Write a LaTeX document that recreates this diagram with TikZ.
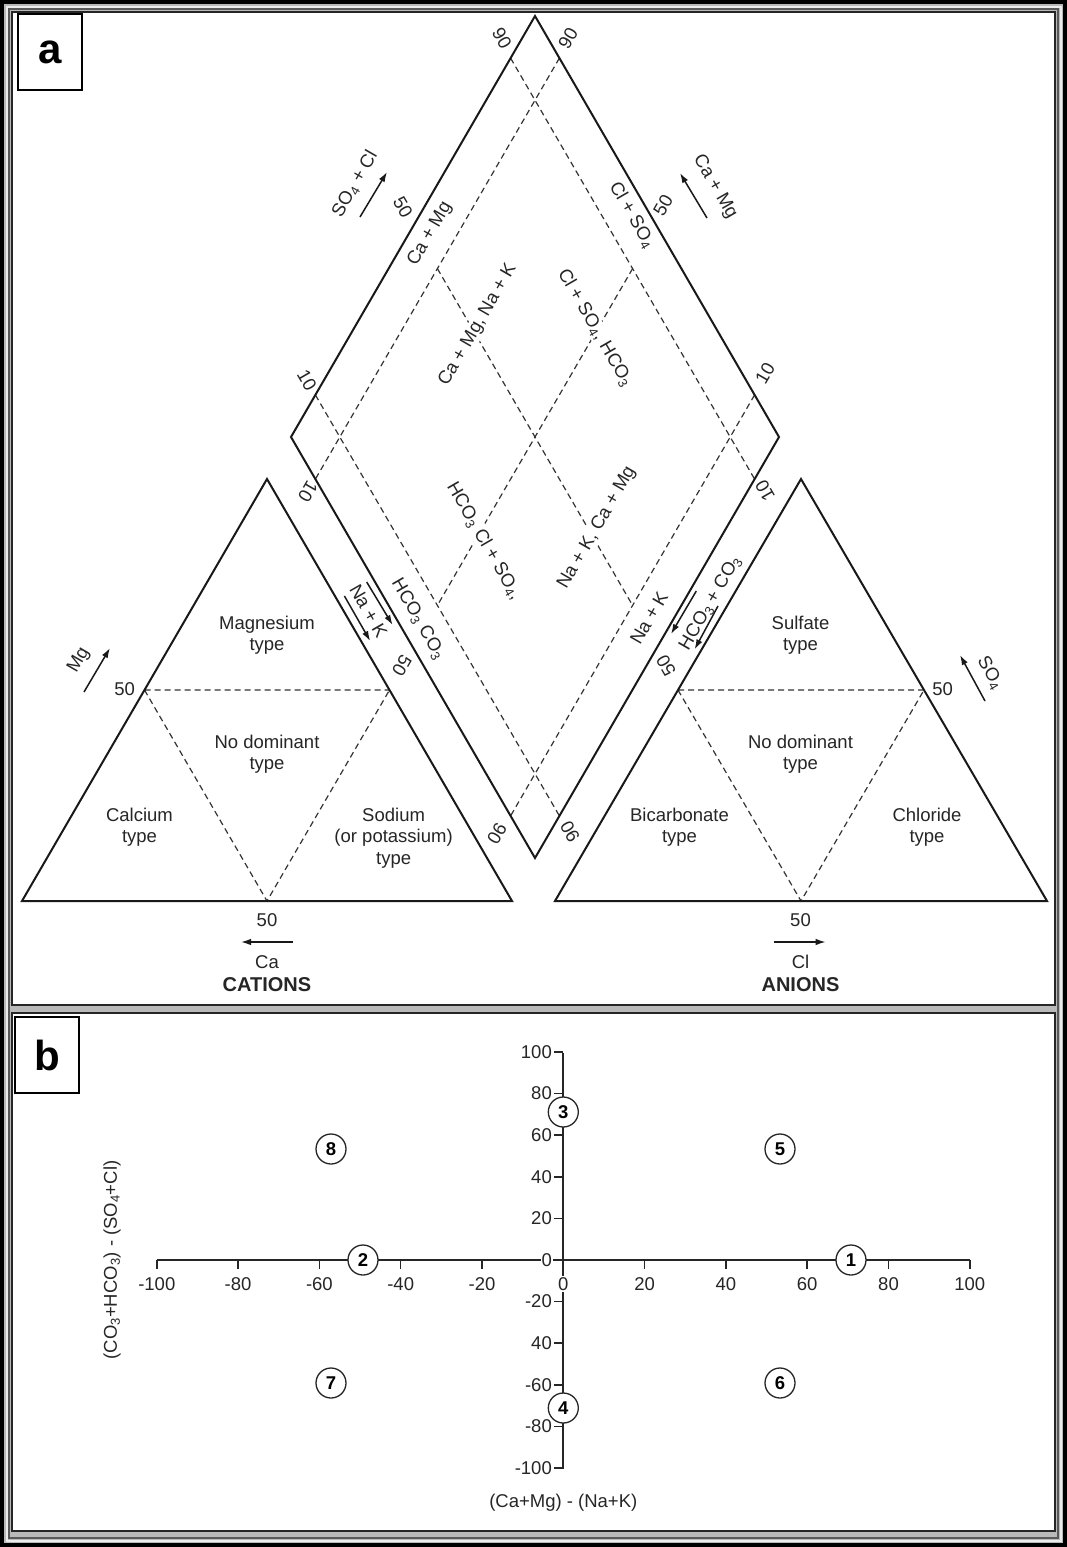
\documentclass[tikz,border=0pt]{standalone}
\usepackage{fontspec}
\setmainfont{Liberation Sans}
\usetikzlibrary{arrows.meta,calc}
\newcommand\lbf{\fontsize{18.5}{21.4}\selectfont}
\begin{document}
\begin{tikzpicture}[x=1pt,y=-1pt,
  bline/.style={line width=2pt, draw=black!90, line join=miter},
  dline/.style={line width=1.2pt, draw=black!80, dash pattern=on 6pt off 4pt},
  lbl/.style={font=\lbf, inner sep=1pt, align=center, text=black!85},
  wl/.style={lbl, fill=white},
  arr/.style={-{Latex[length=10pt,width=6.5pt]}, line width=1.5pt, draw=black!90},
  circ/.style={circle, draw=black!85, line width=1.3pt, fill=white, minimum size=30pt, inner sep=0pt, font=\lbf\bfseries},
  axisln/.style={line width=1.7pt, draw=black!85},
  tk/.style={line width=1.5pt, draw=black!85},
  plabel/.style={draw=black, line width=1.6pt, fill=white, minimum width=64pt, minimum height=76pt, inner sep=0pt, font=\fontsize{42}{42}\selectfont\bfseries},
  bold/.style={font=\fontsize{20}{22}\selectfont\bfseries, inner sep=1pt, text=black!85}
]
\useasboundingbox (0,0) rectangle (1067,1547);
% ---------- frame ----------
\fill[black] (0,0) rectangle (1067,1547);
\fill[gray!55] (4,4) rectangle (1063,1543);
\draw[gray!15, line width=2pt] (6.5,6.5) rectangle (1060.5,1540.5);
\draw[gray!70!black, line width=1.2pt] (9,9) rectangle (1058,1538);
\filldraw[fill=white, draw=black!85, line width=1.5pt] (12,12) rectangle (1055,1005);
\filldraw[fill=white, draw=black!85, line width=1.5pt] (12,1013) rectangle (1055,1531);
\node[plabel] (pa) at (50,52) {a};
\node[plabel] (pb) at (47,1055) {b};

% ---------- panel a : geometry ----------
\coordinate (LA) at (267,479);
\coordinate (LB1) at (22,901);
\coordinate (LB2) at (512,901);
\coordinate (RA) at (801,479);
\coordinate (RB1) at (555,901);
\coordinate (RB2) at (1047,901);
\coordinate (DT) at (535,16);
\coordinate (DL) at (291,437);
\coordinate (DR) at (779,437);
\coordinate (DB) at (535,858);
% triangle midpoints
\coordinate (LM1) at (144.5,690);
\coordinate (LM2) at (389.5,690);
\coordinate (LM3) at (267,901);
\coordinate (RM1) at (678,690);
\coordinate (RM2) at (924,690);
\coordinate (RM3) at (801,901);
% diamond grid points
\coordinate (u1a) at ($(DT)!0.1!(DL)$);
\coordinate (u1b) at ($(DR)!0.1!(DB)$);
\coordinate (u9a) at ($(DT)!0.9!(DL)$);
\coordinate (u9b) at ($(DR)!0.9!(DB)$);
\coordinate (v1a) at ($(DT)!0.1!(DR)$);
\coordinate (v1b) at ($(DL)!0.1!(DB)$);
\coordinate (v9a) at ($(DT)!0.9!(DR)$);
\coordinate (v9b) at ($(DL)!0.9!(DB)$);
\coordinate (u5a) at (437.4,268.6);
\coordinate (u5b) at (632.6,605.4);
\coordinate (v5a) at (632.6,268.6);
\coordinate (v5b) at (437.4,605.4);

% dashed lines
\draw[dline] (LM1) -- (LM2) (LM1) -- (LM3) -- (LM2);
\draw[dline] (RM1) -- (RM2) (RM1) -- (RM3) -- (RM2);
\draw[dline] (u1a) -- (u1b);
\draw[dline] (u9a) -- (u9b);
\draw[dline] (v1a) -- (v1b);
\draw[dline] (v9a) -- (v9b);
\draw[dline] (u5a) -- (u5b);
\draw[dline] (v5a) -- (v5b);

% solid outlines
\draw[bline] (LB1) -- (LA) -- (LB2) -- cycle;
\draw[bline] (RB1) -- (RA) -- (RB2) -- cycle;
\draw[bline] (DT) -- (DL) -- (DB) -- (DR) -- cycle;

% inner diamond labels
\node[wl, rotate=60] (iCaMg) at (478,325) {Ca + Mg, Na + K};
\node[wl, rotate=-60] (iClSO) at (595,328) {Cl + SO\textsubscript{4}, HCO\textsubscript{3}};
\node[wl, rotate=-60] (iHCO) at (484,541) {HCO\textsubscript{3} Cl + SO\textsubscript{4},};
\node[wl, rotate=60] (iNaK) at (597,528) {Na + K, Ca + Mg};

% edge labels inside diamond
\node[lbl, rotate=60] (eCaMg) at (430,234) {Ca + Mg};
\node[lbl, rotate=-60] (eClSO) at (632,215) {Cl + SO\textsubscript{4}};
\node[lbl, rotate=-60] (eHCO) at (418,619) {HCO\textsubscript{3} CO\textsubscript{3}};
\node[lbl, rotate=60] (eNaK) at (649,618) {Na + K};

% scale numbers
\node[lbl, rotate=-60] (n90a) at (502,38) {90};
\node[lbl, rotate=-60] (n50a) at (403,207) {50};
\node[lbl, rotate=-60] (n10a) at (307,380) {10};
\node[lbl, rotate=60] (n90b) at (568,38) {90};
\node[lbl, rotate=60] (n50b) at (663,205) {50};
\node[lbl, rotate=60] (n10b) at (765,373) {10};
\node[lbl, rotate=-120] (n10c) at (308,492) {10};
\node[lbl, rotate=-120] (n50c) at (402,666) {50};
\node[lbl, rotate=-120] (n90c) at (497,834) {90};
\node[lbl, rotate=120] (n10d) at (765,491) {10};
\node[lbl, rotate=120] (n50d) at (666,666) {50};
\node[lbl, rotate=120] (n90d) at (570,832) {90};

% arrows with labels
\node[lbl, rotate=60] (tSOCl) at (355,184) {SO\textsubscript{4} + Cl};
\coordinate (aSOCl1) at (360,217); \coordinate (aSOCl2) at (387,172);
\draw[arr] (aSOCl1) -- (aSOCl2);
\node[lbl, rotate=-60] (tCaMg) at (715,187) {Ca + Mg};
\coordinate (aCaMg1) at (707,218); \coordinate (aCaMg2) at (680,173);
\draw[arr] (aCaMg1) -- (aCaMg2);
\node[lbl, rotate=60] (tMg) at (79,660) {Mg};
\coordinate (aMg1) at (84,692); \coordinate (aMg2) at (110,648);
\draw[arr] (aMg1) -- (aMg2);
\node[lbl, rotate=-60] (tSO) at (990,673) {SO\textsubscript{4}};
\coordinate (aSO1) at (985,701); \coordinate (aSO2) at (960,655);
\draw[arr] (aSO1) -- (aSO2);
\node[lbl, rotate=-60] (tNaK) at (368.5,611) {Na + K};
\coordinate (aNK1) at (366.7,582); \coordinate (aNK2) at (392.6,625);
\coordinate (aNK3) at (344.4,596); \coordinate (aNK4) at (370.2,641);
\draw[arr] (aNK1) -- (aNK2);
\draw[arr] (aNK3) -- (aNK4);
\node[lbl, rotate=60] (tHC) at (710.6,603) {HCO\textsubscript{3} + CO\textsubscript{3}};
\coordinate (aHC1) at (696.3,591); \coordinate (aHC2) at (671,634);
\coordinate (aHC3) at (718,606); \coordinate (aHC4) at (694.6,649.4);
\draw[arr] (aHC1) -- (aHC2);
\draw[arr] (aHC3) -- (aHC4);

% triangle labels
\node[lbl] (mg) at (267,635) {Magnesium\\type};
\node[lbl] (nd1) at (267,754) {No dominant\\type};
\node[lbl] (ca) at (139.5,827) {Calcium\\type};
\node[lbl] (na) at (393.6,838) {Sodium\\(or potassium)\\type};
\node[lbl] (su) at (800.5,635) {Sulfate\\type};
\node[lbl] (nd2) at (800.5,754) {No dominant\\type};
\node[lbl] (bi) at (679.5,827) {Bicarbonate\\type};
\node[lbl] (ch) at (927,827) {Chloride\\type};
\node[lbl] (l50a) at (124.7,689) {50};
\node[lbl] (r50a) at (942.7,689) {50};
\node[lbl] (l50b) at (267,920) {50};
\node[lbl] (r50b) at (800.5,920) {50};
\coordinate (aCa1) at (292.7,942); \coordinate (aCa2) at (241,942);
\draw[arr] (aCa1) -- (aCa2);
\coordinate (aCl1) at (773.6,942); \coordinate (aCl2) at (825.7,942);
\draw[arr] (aCl1) -- (aCl2);
\node[lbl] (tCa) at (267,962) {Ca};
\node[lbl] (tCl) at (800.5,962) {Cl};
\node[bold] (cat) at (267,985) {CATIONS};
\node[bold] (ani) at (800.5,985) {ANIONS};

% ---------- panel b ----------
\coordinate (xL) at (157,1260);
\coordinate (xR) at (970,1260);
\coordinate (yT) at (563.3,1053);
\coordinate (yB) at (563.3,1469);
\draw[axisln] (xL) -- (xR);
\draw[axisln] (yT) -- (yB);
\foreach \v in {-100,-80,-60,-40,-20,0,20,40,60,80,100} {
  \coordinate (xt\v) at ({563.3+\v*4.065},1260);
  \draw[tk] (xt\v) -- ++(0,9);
  \node[wl] (xl\v) at ({563.3+\v*4.065},1284) {\v};
}
\foreach \v/\t in {100/100,80/80,60/60,40/40,20/20,0/0,-20/-20,-40/40,-60/-60,-80/-80,-100/-100} {
  \coordinate (yt\v) at (563.3,{1260-\v*2.08});
  \draw[tk] (yt\v) -- ++(-9,0);
  \node[wl, anchor=east] (yl\v) at (553,{1260-\v*2.08}) {\t};
}
\node[circ] (c3) at (563.3,1112) {3};
\node[circ] (c8) at (331,1149) {8};
\node[circ] (c5) at (780,1149) {5};
\node[circ] (c2) at (363,1260) {2};
\node[circ] (c1) at (851,1260) {1};
\node[circ] (c7) at (331,1383) {7};
\node[circ] (c6) at (780,1383) {6};
\node[circ] (c4) at (563.3,1408) {4};
\node[lbl] (xtitle) at (563.3,1503) {(Ca+Mg) - (Na+K)};
\node[lbl, rotate=90] (ytitle) at (112,1260) {(CO\textsubscript{3}+HCO\textsubscript{3}) - (SO\textsubscript{4}+Cl)};
\end{tikzpicture}
\end{document}
